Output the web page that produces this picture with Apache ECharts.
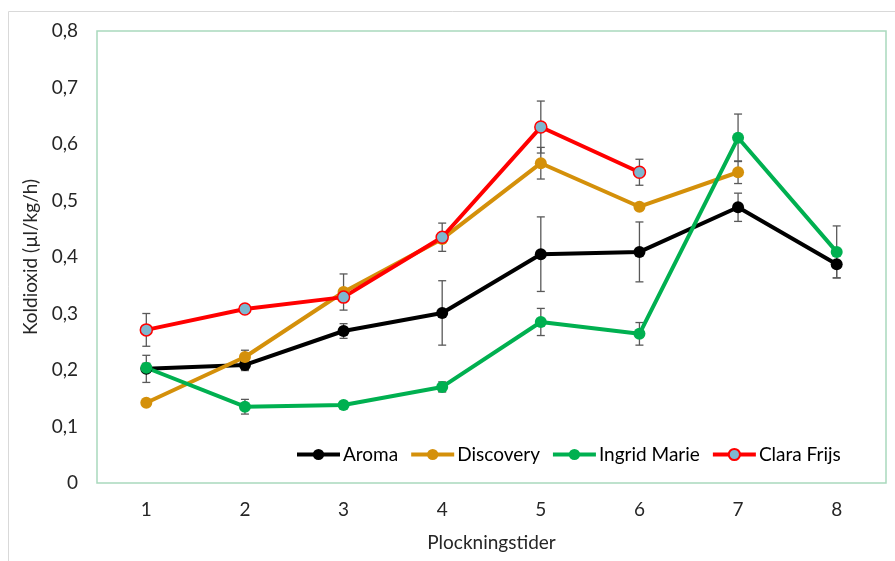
<!DOCTYPE html>
<html><head><meta charset="utf-8">
<script src="https://cdn.jsdelivr.net/npm/echarts@6/dist/echarts.min.js"></script>
<style>html,body{margin:0;padding:0;background:#fff}#c{width:895px;height:561px}</style>
</head><body><div id="c"></div>
<script>
const categories = ['1','2','3','4','5','6','7','8'];
const yTicks = [0,0.1,0.2,0.3,0.4,0.5,0.6,0.7,0.8];
const seriesNames = ['Aroma','Discovery','Ingrid Marie','Clara Frijs'];
const aroma = [0.202,0.209,0.269,0.301,0.405,0.409,0.488,0.387];
const aromaErr = [0.024,0.010,0.013,0.057,0.066,0.053,0.025,0.024];
const discovery = [0.142,0.223,0.338,0.432,0.566,0.489,0.550,null];
const discoveryErr = [0,0.012,0.032,0,0.028,0,0.020,null];
const ingrid = [0.204,0.135,0.138,0.170,0.285,0.264,0.611,0.409];
const ingridErr = [0.008,0.013,0,0.009,0.024,0.020,0.042,0.046];
const clara = [0.271,0.308,0.329,0.435,0.630,0.550,null,null];
const claraErr = [0.029,0,0,0.025,0.046,0.023,null,null];

const colors = ['#000000','#D4900A','#00B050','#FF0000'];
const FONT = 'Lato';
const TXT = '#262626';

function errData(vals, errs){
  const out=[];
  vals.forEach((v,i)=>{ if(v!=null && errs[i]) out.push([i, v-errs[i], v+errs[i]]); });
  return out;
}
function errSeries(vals, errs){
  return {
    type:'custom', z:1, silent:true,
    data: errData(vals, errs),
    encode:{x:0,y:[1,2]},
    renderItem:function(params, api){
      const x=api.value(0);
      const lo=api.coord([x, api.value(1)]);
      const hi=api.coord([x, api.value(2)]);
      const w=4;
      const st={stroke:'#595959',lineWidth:1.3};
      return {type:'group',children:[
        {type:'line',shape:{x1:lo[0],y1:lo[1],x2:hi[0],y2:hi[1]},style:st},
        {type:'line',shape:{x1:lo[0]-w,y1:lo[1],x2:lo[0]+w,y2:lo[1]},style:st},
        {type:'line',shape:{x1:hi[0]-w,y1:hi[1],x2:hi[0]+w,y2:hi[1]},style:st}
      ]};
    }
  };
}
function lineSeries(name, vals, color, fill, border){
  return {
    name:name, type:'line', data:vals, z:3,
    symbol:'circle', symbolSize:12,
    lineStyle:{color:color,width:4},
    itemStyle:{color:fill||color, borderColor:border||color, borderWidth: border?1.5:0},
    emphasis:{disabled:true}
  };
}
const chart = echarts.init(document.getElementById('c'));
chart.setOption({
  animation:false,
  textStyle:{fontFamily:FONT},
  graphic:[{type:'rect',shape:{x:8.5,y:11.5,width:900,height:600},style:{fill:null,stroke:'#d9d9d9',lineWidth:1},z:-10}],
  grid:{left:97,right:9,top:31,bottom:78,show:true,borderColor:'#a9d9bd',borderWidth:1.5,backgroundColor:'#fff'},
  legend:{
    data:seriesNames, left:295, top:445, padding:0, itemWidth:43, itemHeight:14, itemGap:11,
    lineStyle:{width:4},
    textStyle:{fontSize:19,color:'#000',fontFamily:FONT,padding:[0,0,0,-2]}
  },
  xAxis:{
    type:'category', data:categories, boundaryGap:true,
    axisLine:{show:false}, axisTick:{show:false},
    axisLabel:{fontSize:19,color:TXT,margin:17,fontFamily:FONT},
    name:'Plockningstider', nameLocation:'middle', nameGap:50,
    nameTextStyle:{fontSize:19,color:TXT,fontFamily:FONT}
  },
  yAxis:{
    type:'value', min:0, max:0.8, interval:0.1,
    splitLine:{show:false}, axisLine:{show:false}, axisTick:{show:false},
    axisLabel:{fontSize:19,color:TXT,margin:19,fontFamily:FONT,
      formatter:v=>{const t=yTicks.find(k=>Math.abs(k-v)<1e-9); return String(t!=null?t:v).replace('.',',');}},
    name:'Koldioxid (µl/kg/h)', nameLocation:'middle', nameGap:55,
    nameTextStyle:{fontSize:19,color:TXT,fontFamily:FONT}
  },
  series:[
    errSeries(aroma, aromaErr),
    errSeries(discovery, discoveryErr),
    errSeries(ingrid, ingridErr),
    errSeries(clara, claraErr),
    lineSeries(seriesNames[0], aroma, colors[0]),
    lineSeries(seriesNames[1], discovery, colors[1]),
    lineSeries(seriesNames[2], ingrid, colors[2]),
    lineSeries(seriesNames[3], clara, colors[3], '#7EB7CF', '#FF0000')
  ]
});
</script></body></html>
